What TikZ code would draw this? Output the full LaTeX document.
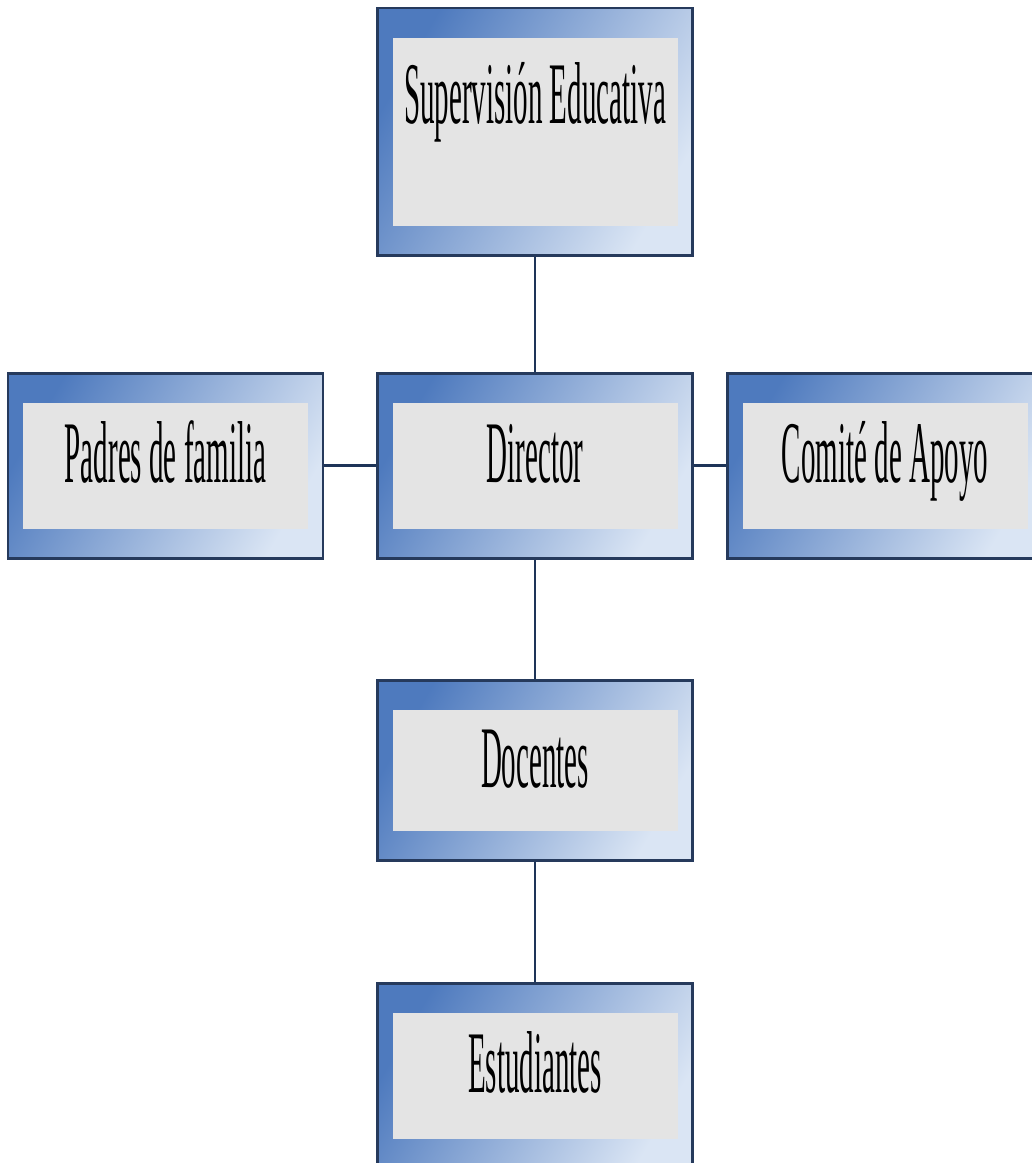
\documentclass[tikz,border=0pt]{standalone}
\usepackage{fontspec}
\setmainfont{Liberation Serif}
\usepackage{graphicx}

\definecolor{boxedge}{RGB}{38,58,92}
\definecolor{boxblue}{RGB}{78,122,190}
\definecolor{boxlight}{RGB}{218,229,244}
\definecolor{innergrey}{RGB}{228,228,228}
\definecolor{linkline}{RGB}{30,52,88}

% narrow text as in the chart
\newcommand{\boxtext}[1]{\scalebox{0.33}[1]{#1}}

\tikzset{
    orgbox/.style={rectangle, draw=boxedge, line width=1.7pt,
        minimum width=6.3cm, minimum height=3.7cm, inner sep=0pt,
        left color=boxblue, right color=boxlight, shading angle=60,
        path picture={\fill[innergrey]
            ([xshift=0.3cm,yshift=-0.6cm]path picture bounding box.north west)
            rectangle ([xshift=-0.3cm,yshift=0.58cm]path picture bounding box.south east);},
        font=\fontsize{50}{56}\selectfont, text height=34pt, text depth=14.6pt},
    link/.style={draw=linkline, line width=1.4pt}
}

\begin{document}
\begin{tikzpicture}
    \useasboundingbox (0,0) rectangle (20.64,-23.26);

    % Boxes
    \node[orgbox, minimum height=4.94cm, text depth=43pt] (sup) at (10.7,-2.63) {\boxtext{Supervisión Educativa}};
    \node[orgbox] (padres) at (3.31,-9.31) {\boxtext{Padres de familia}};
    \node[orgbox] (dir) at (10.7,-9.31) {\boxtext{Director}};
    \node[orgbox] (comite) at (17.7,-9.31) {\boxtext{Comité de Apoyo}};
    \node[orgbox, minimum height=3.6cm] (doc) at (10.7,-15.4) {\boxtext{Docentes}};
    \node[orgbox] (est) at (10.7,-21.51) {\boxtext{Estudiantes}};

    % Connecting lines
    \draw[link] (sup) -- (dir);
    \draw[link] (padres) -- (dir);
    \draw[link] (dir) -- (comite);
    \draw[link] (dir) -- (doc);
    \draw[link] (doc) -- (est);
\end{tikzpicture}
\end{document}
